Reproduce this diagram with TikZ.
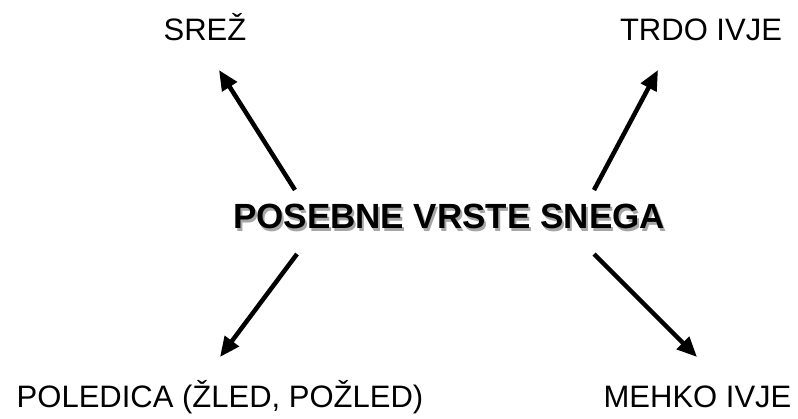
\documentclass[tikz,border=0pt]{standalone}
\usepackage{fontspec}
\setmainfont{Liberation Sans}
\usetikzlibrary{arrows.meta}
\begin{document}
\begin{tikzpicture}[x=1pt,y=-1pt,
  lbl/.style={inner sep=0pt,anchor=base,font=\fontsize{31}{36}\selectfont},
  ttl/.style={inner sep=0pt,anchor=base,font=\fontsize{35}{40}\selectfont\bfseries},
  arr/.style={line width=4.5pt,-{Triangle[length=20pt,width=17pt]}}]
\useasboundingbox[fill=white] (0,0) rectangle (798,419);
% labels
\node[lbl] (srez) at (205,41) {SREŽ};
\node[lbl] (trdo) at (701,41) {TRDO IVJE};
\node[lbl] (pole) at (220,407.5) {POLEDICA (ŽLED, POŽLED)};
\node[lbl] (mehko) at (697.5,408) {MEHKO IVJE};
% title with soft shadow
\node[ttl,text=black!35] (shadow) at (451,231.5) {POSEBNE VRSTE SNEGA};
\node[ttl] (title) at (449,229) {POSEBNE VRSTE SNEGA};
% arrow ends
\coordinate (a1s) at (295,190);
\coordinate (a1e) at (219,70);
\coordinate (a2s) at (594,190);
\coordinate (a2e) at (658,70);
\coordinate (a3s) at (297,254);
\coordinate (a3e) at (220,357);
\coordinate (a4s) at (594,254);
\coordinate (a4e) at (697,357);
\draw[arr] (a1s) -- (a1e);
\draw[arr] (a2s) -- (a2e);
\draw[arr] (a3s) -- (a3e);
\draw[arr] (a4s) -- (a4e);
\end{tikzpicture}
\end{document}
